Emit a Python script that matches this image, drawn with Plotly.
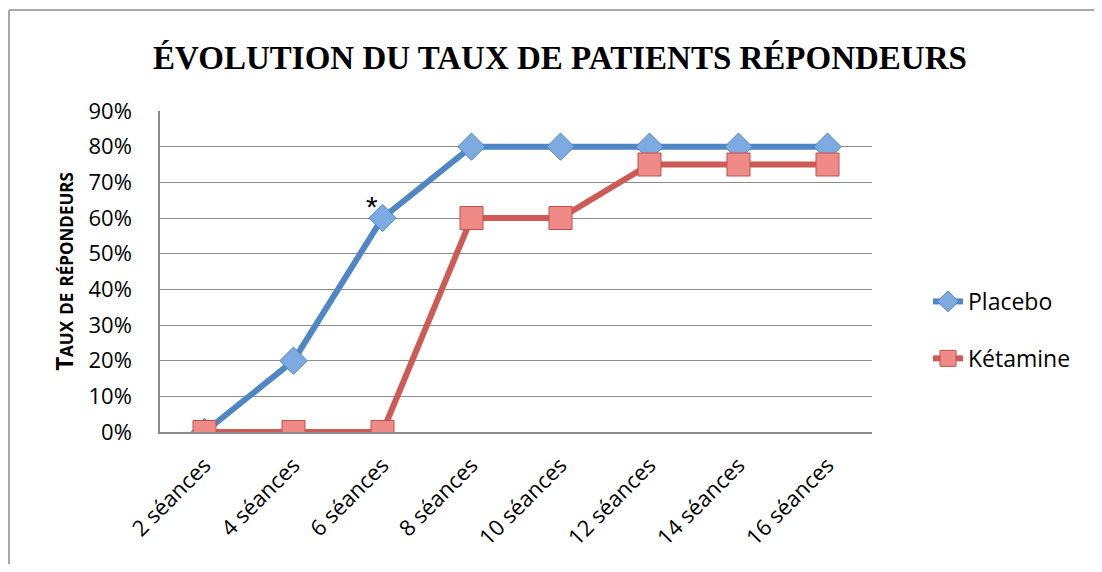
import plotly.graph_objects as go

categories = ["2 séances", "4 séances", "6 séances", "8 séances",
              "10 séances", "12 séances", "14 séances", "16 séances"]
placebo = [0.0, 0.20, 0.60, 0.80, 0.80, 0.80, 0.80, 0.80]
ketamine = [0.0, 0.0, 0.0, 0.60, 0.60, 0.75, 0.75, 0.75]
y_ticks = [0, 0.1, 0.2, 0.3, 0.4, 0.5, 0.6, 0.7, 0.8, 0.9]

OFF = 8  # page body margin
W, H = 1102 - 2 * OFF, 572 - 2 * OFF
L, R, T, B = 160 - OFF, 872 - OFF, 111 - OFF, 432 - OFF

def px(x):  # screen x -> paper
    return (x - OFF - L) / (R - L)

def py(y):  # screen y -> paper
    return (B - (y - OFF)) / (B - T)

fig = go.Figure()
fig.add_trace(go.Scatter(
    x=categories, y=placebo, name="Placebo", mode="lines+markers",
    legendgroup="p",
    line=dict(color="#4f86c6", width=6),
    marker=dict(symbol="diamond", size=21, color="#7eaae2",
                line=dict(color="#4f86c6", width=1)),
))
fig.add_trace(go.Scatter(
    x=categories, y=ketamine, name="Kétamine", mode="lines+markers",
    legendgroup="k",
    line=dict(color="#cd5a55", width=6),
    marker=dict(symbol="square", size=23, color="#ef8a86",
                line=dict(color="#c0504d", width=1)),
))

fig.add_annotation(x=categories[2], y=placebo[2], text="*", showarrow=False,
                   xshift=-11, yshift=12,
                   font=dict(family="Liberation Sans", size=30, color="black"))

font_body = "Open Sans"

fig.update_layout(
    width=W, height=H,
    margin=dict(l=L, r=W - R, t=T, b=H - B),
    paper_bgcolor="white", plot_bgcolor="white",
    title=dict(text="<b>ÉVOLUTION DU TAUX DE PATIENTS RÉPONDEURS</b>",
               x=(560 - OFF) / W, xanchor="center",
               y=1 - (57 - OFF) / H, yanchor="middle",
               font=dict(family="Liberation Serif", size=33, color="black")),
    xaxis=dict(type="category", range=[-0.5, 7.5], tickangle=-45,
               showgrid=False, showline=True, linecolor="#8c8c8c", linewidth=1.5,
               ticks="", ticklabelstandoff=10,
               tickfont=dict(family=font_body, size=22, color="black")),
    yaxis=dict(range=[0, 0.9], tickvals=y_ticks, tickformat=".0%",
               showgrid=True, gridcolor="#8c8c8c", gridwidth=1.2,
               showline=True, linecolor="#8c8c8c", linewidth=1.5,
               ticks="", ticklabelstandoff=22, zeroline=False,
               tickfont=dict(family=font_body, size=22, color="black"),
               title=dict(text="<b>Taux de répondeurs</b>", standoff=8,
                          font=dict(family=font_body, size=24, color="black",
                                    variant="small-caps"))),
    legend=dict(x=px(928), y=py(330), xanchor="left", yanchor="middle",
                font=dict(family=font_body, size=23, color="black"),
                tracegroupgap=24, bgcolor="rgba(0,0,0,0)"),
    showlegend=True,
)

fig.add_shape(type="line", xref="paper", yref="paper",
              x0=px(9), x1=px(1120), y0=py(10), y1=py(10),
              line=dict(color="#a8a8a8", width=2))
fig.add_shape(type="line", xref="paper", yref="paper",
              x0=px(9), x1=px(9), y0=py(10), y1=py(600),
              line=dict(color="#a8a8a8", width=2))

fig.write_html("out.html", config={"displayModeBar": False})
